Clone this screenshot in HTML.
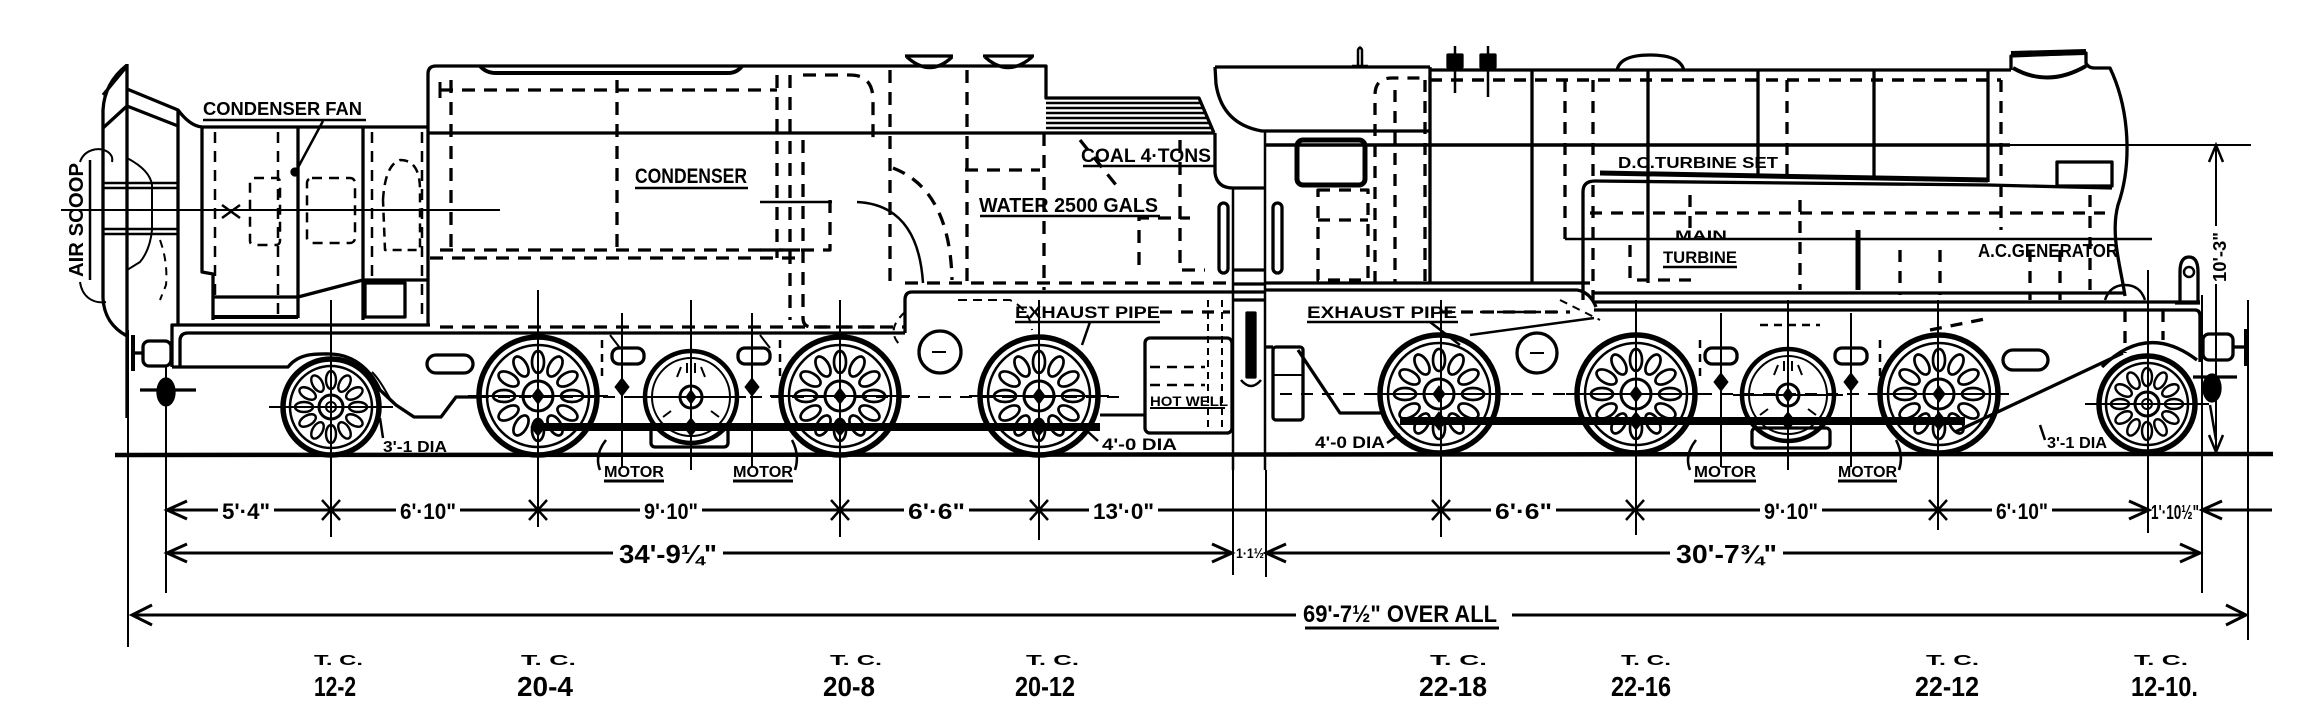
<!DOCTYPE html>
<html><head><meta charset="utf-8"><title>Turbine locomotive diagram</title>
<style>
html,body{margin:0;padding:0;background:#fff;width:2310px;height:726px;overflow:hidden}
svg{display:block}
</style></head><body>
<svg xmlns="http://www.w3.org/2000/svg" width="2310" height="726" viewBox="0 0 2310 726">
<defs>
<g id="bw" fill="none" stroke="#000">
<circle r="59" stroke-width="5.5"/>
<circle r="51" stroke-width="2.5"/>
<g stroke-width="2.7">
<ellipse cy="-34" rx="6" ry="11"/>
<ellipse cy="-34" rx="6" ry="11" transform="rotate(30)"/>
<ellipse cy="-34" rx="6" ry="11" transform="rotate(60)"/>
<ellipse cy="-34" rx="6" ry="11" transform="rotate(90)"/>
<ellipse cy="-34" rx="6" ry="11" transform="rotate(120)"/>
<ellipse cy="-34" rx="6" ry="11" transform="rotate(150)"/>
<ellipse cy="-34" rx="6" ry="11" transform="rotate(180)"/>
<ellipse cy="-34" rx="6" ry="11" transform="rotate(210)"/>
<ellipse cy="-34" rx="6" ry="11" transform="rotate(240)"/>
<ellipse cy="-34" rx="6" ry="11" transform="rotate(270)"/>
<ellipse cy="-34" rx="6" ry="11" transform="rotate(300)"/>
<ellipse cy="-34" rx="6" ry="11" transform="rotate(330)"/>
</g>
<circle r="15" stroke-width="3"/>
<path d="M0,-8 L6,0 L0,8 L-6,0Z" fill="#000" stroke-width="1"/>
<path d="M-70,0 L70,0" stroke-width="2"/>
</g>
<g id="sw" fill="none" stroke="#000">
<circle r="48" stroke-width="5.5"/>
<circle r="41" stroke-width="2.5"/>
<g stroke-width="2.4">
<ellipse cy="-27" rx="5" ry="9"/>
<ellipse cy="-27" rx="5" ry="9" transform="rotate(30)"/>
<ellipse cy="-27" rx="5" ry="9" transform="rotate(60)"/>
<ellipse cy="-27" rx="5" ry="9" transform="rotate(90)"/>
<ellipse cy="-27" rx="5" ry="9" transform="rotate(120)"/>
<ellipse cy="-27" rx="5" ry="9" transform="rotate(150)"/>
<ellipse cy="-27" rx="5" ry="9" transform="rotate(180)"/>
<ellipse cy="-27" rx="5" ry="9" transform="rotate(210)"/>
<ellipse cy="-27" rx="5" ry="9" transform="rotate(240)"/>
<ellipse cy="-27" rx="5" ry="9" transform="rotate(270)"/>
<ellipse cy="-27" rx="5" ry="9" transform="rotate(300)"/>
<ellipse cy="-27" rx="5" ry="9" transform="rotate(330)"/>
</g>
<circle r="12" stroke-width="3"/>
<circle r="5" stroke-width="2"/>
<path d="M-62,0 L62,0" stroke-width="2"/>
</g>
<g id="mw" fill="none" stroke="#000">
<circle r="46" stroke-width="4.5"/>
<circle r="39" stroke-width="2"/>
<circle r="11" stroke-width="3"/>
<path d="M0,-7 L5,0 L0,7 L-5,0Z" fill="#000" stroke-width="1"/>
<path d="M-14,-20 L-10,-30 M14,-20 L10,-30 M-20,14 L-28,20 M20,14 L28,20 M-4,-24 L-4,-34 M4,-24 L4,-34" stroke-width="2"/>
<path d="M-55,0 L55,0" stroke-width="2"/>
</g>
<path id="dia" d="M0,-9 L7,0 L0,9 L-7,0Z"/>
</defs>

<rect width="2310" height="726" fill="#fff"/>

<!-- ================= GROUND ================= -->
<path d="M115,455 L2273,454" stroke="#000" stroke-width="4.5" fill="none"/>

<g fill="none" stroke="#000" stroke-width="3.3" stroke-linejoin="round">

<!-- ================= TENDER / CONDENSER ================= -->
<path d="M127,64 L127,418"/>
<path d="M127,65 C113,76 104,90 103,110 L103,298 C104,318 114,329 127,336"/>
<path d="M103,95 L127,66"/>
<path d="M103,128 L127,106"/>
<path d="M127,89 L178,110 L178,325"/>
<path d="M127,106 L178,126"/>
<path d="M103,183 L178,183 M103,188 L178,188 M103,229 L178,229 M103,234 L178,234" stroke-width="2.5"/>
<path d="M127,158 Q150,170 152,185 L152,230 Q150,250 140,262 L127,270" stroke-width="2"/>
<path d="M160,240 Q168,262 166,285 L160,300" stroke-width="2" stroke-dasharray="8 6"/>
<path d="M178,110 Q190,126 202,127 L428,127"/>

<path d="M90,160 L90,280" stroke-width="2.5"/>
<path d="M80,162 C84,150 98,146 108,152 C112,155 113,158 112,162" stroke-width="2"/>
<path d="M80,282 C82,296 92,304 106,302" stroke-width="2"/>

<path d="M61,210 L500,210" stroke-width="2"/>

<path d="M202,127 L202,272 L213,274 L213,320"/>
<path d="M298,127 L298,318"/>
<path d="M363,127 L363,320"/>
<path d="M215,132 L215,300 M278,132 L278,318 M372,132 L372,280 M422,132 L422,322" stroke-dasharray="11 8" stroke-width="2.5"/>
<rect x="250" y="178" width="30" height="67" rx="4" stroke-dasharray="10 7" stroke-width="2.5"/>
<rect x="307" y="178" width="48" height="65" rx="5" stroke-dasharray="10 7" stroke-width="2.5"/>
<path d="M383,200 Q385,165 400,160 Q420,160 420,190 L420,250 L385,250 Z" stroke-dasharray="9 6" stroke-width="2.5"/>
<path d="M323,121 L295,173" stroke-width="2.5"/>
<circle cx="295" cy="172" r="3" fill="#000"/>
<path d="M213,297 L298,297 L363,280 L428,280"/>
<path d="M213,317 L298,317" stroke-width="4"/>
<rect x="365" y="283" width="40" height="34"/>
<path d="M222,205 L240,218 M240,205 L222,218" stroke-width="2.5"/>

<path d="M428,325 L428,74 Q428,66 436,66 L1046,66 L1046,98 L1199,98 L1214,133"/>
<path d="M428,133 L1214,133"/>
<path d="M480,66 Q486,73 496,73 L728,73 Q737,73 742,66" stroke-width="4"/>
<path d="M905,56 L953,56 M907,57 Q930,78 952,57 M983,56 L1034,56 M985,57 Q1008,78 1032,57"/>
<path d="M1046,103 L1201,103 M1046,108 L1203,108 M1046,113 L1205,113 M1046,118 L1207,118 M1046,123 L1209,123 M1046,128 L1211,128" stroke-width="2.5"/>

<g stroke-dasharray="13 9">
<path d="M440,90 L777,90"/>
<path d="M440,250 L800,250"/>
<path d="M430,258 L800,258"/>
<path d="M451,80 L451,250"/>
<path d="M617,80 L617,250"/>
<path d="M777,75 L777,258"/>
<path d="M790,75 L790,320"/>
<path d="M803,140 L803,318 Q803,327 812,327 L880,327"/>
<path d="M890,70 L890,290"/>
<path d="M967,70 L967,282"/>
<path d="M1044,133 L1044,290"/>
<path d="M905,283 L1230,283"/>
<path d="M440,327 L905,327"/>
<path d="M1139,265 L1139,218 L1190,218"/>
<path d="M1180,140 L1180,270 L1205,270"/>
<path d="M803,75 L850,75 Q873,75 873,100 L873,140"/>
<path d="M893,168 Q950,190 952,280"/>
<path d="M830,200 L830,250 L760,250"/>
<path d="M965,170 L1040,170"/>
<path d="M1080,140 L1120,190"/>
</g>
<path d="M857,202 Q918,205 923,283" stroke-width="2.5"/>
<path d="M760,202 L832,202" stroke-width="2.5"/>
<path d="M440,82 L440,98 M440,90 L446,90" stroke-width="3"/>

<path d="M1233,292 L912,292 Q905,292 905,300 L905,333"/>
<path d="M172,367 L172,325 L430,325"/>
<path d="M180,367 L180,341 Q180,333 188,333 L905,333"/>
<path d="M172,367 L288,367 C300,352 318,354 331,354 C356,355 372,372 380,390 L396,405 L414,417 L441,417 L456,397 L478,397"/>
<path d="M372,372 C380,380 386,392 392,402" stroke-width="2"/>
<rect x="427" y="355" width="46" height="18" rx="9"/>
<circle cx="940" cy="352" r="21"/>
<path d="M932,352 L946,352" stroke-width="2"/>
<path d="M905,312 Q885,330 900,345" stroke-width="2" stroke-dasharray="8 6"/>
<path d="M1100,415 L1145,415" stroke-width="3"/>
<path d="M958,300 L1010,300 Q1030,310 1032,330" stroke-width="2" stroke-dasharray="9 6"/>

<rect x="143" y="341" width="28" height="25" rx="6"/>
<path d="M133,335 L133,371" stroke-width="4"/>
<path d="M133,353 L143,353"/>
<ellipse cx="166" cy="392" rx="8" ry="13" fill="#000"/>
<path d="M140,390 L196,390"/>

<rect x="612" y="348" width="32" height="16" rx="7"/>
<rect x="738" y="348" width="32" height="16" rx="7"/>
<rect x="651" y="427" width="77" height="20" rx="4"/>
<path d="M602,340 L602,380 M780,340 L780,380" stroke-dasharray="8 6" stroke-width="2.5"/>
<path d="M610,335 L620,348 M760,335 L770,348" stroke-width="2"/>

<rect x="1145" y="338" width="87" height="95" rx="5"/>
<path d="M1150,367 L1205,367 M1150,385 L1205,385" stroke-dasharray="10 7" stroke-width="2.5"/>
<path d="M1208,300 L1208,430 M1222,300 L1222,430" stroke-dasharray="7 5" stroke-width="2"/>
<path d="M1150,408 L1225,408" stroke-width="2"/>

<!-- ================= ENGINE ================= -->
<path d="M1215,67 L1430,67"/>
<path d="M1215,67 L1216,84 Q1222,124 1262,131 L1430,131"/>
<path d="M1215,133 L1215,173 Q1217,188 1233,188 L1265,188"/>
<path d="M1233,188 L1233,470" stroke-width="2.5"/>
<path d="M1265,131 L1265,470" stroke-width="2.5"/>
<path d="M1233,270 L1265,270 M1233,284 L1265,284 M1233,292 L1265,292 M1233,300 L1265,300"/>
<rect x="1247" y="313" width="8" height="64" fill="#000"/>
<path d="M1241,380 Q1251,392 1261,380" stroke-width="2.5"/>
<rect x="1297" y="140" width="68" height="45" rx="6" stroke-width="5"/>
<rect x="1219" y="203" width="9" height="70" rx="4.5"/>
<rect x="1273" y="203" width="9" height="70" rx="4.5"/>
<path d="M1358,66 L1358,50 Q1360,45 1362,50 L1362,66 M1352,66 L1368,66" stroke-width="2.5"/>
<path d="M1455,46 L1455,93 M1488,46 L1488,97" stroke-width="2.5"/>
<rect x="1448" y="55" width="14" height="12" fill="#000"/>
<rect x="1481" y="55" width="14" height="12" fill="#000"/>

<path d="M1430,67 L1430,283"/>
<path d="M1430,70 L2011,70"/>
<path d="M1532,70 L1532,283 M1648,70 L1648,283 M1758,70 L1758,178 M1874,70 L1874,180 M1988,70 L1988,182"/>
<path d="M1266,145 L2010,145" stroke-width="3.5"/>
<path d="M2010,145 L2251,145" stroke-width="2"/>
<path d="M1265,283 L1590,283"/>
<path d="M1265,290 L1577,290 Q1590,292 1596,307"/>
<path d="M1593,293 L2125,293"/>
<path d="M1594,302 L2200,302"/>
<path d="M1594,310 L2195,310 Q2200,310 2200,316 L2200,362"/>
<path d="M1617,71 Q1619,55 1650,55 Q1681,55 1684,71"/>

<path d="M1600,173 L1988,180" stroke-width="5"/>
<path d="M1583,300 L1583,192 Q1583,181 1595,181 L1988,185 L2112,188"/>
<rect x="2057" y="162" width="55" height="24"/>
<path d="M1565,239 L2152,239" stroke-width="2.5"/>
<path d="M1858,230 L1858,290" stroke-width="5"/>

<path d="M2011,70 L2011,56 L2086,53 L2086,63 Q2088,68 2095,68 L2110,68 C2130,110 2132,165 2118,205 C2110,235 2121,268 2125,296"/>
<path d="M2011,54 L2086,52" stroke-width="6"/>
<path d="M2013,68 Q2048,88 2086,66" stroke-width="4"/>

<g stroke-dasharray="12 9">
<path d="M1430,80 L2001,80" stroke-width="3.5"/>
<path d="M1375,283 L1375,95 Q1375,78 1392,78 L1430,78"/>
<path d="M1395,90 L1395,283"/>
<path d="M1425,80 L1425,283"/>
<rect x="1318" y="190" width="50" height="90"/>
<path d="M1318,220 L1368,220"/>
<path d="M1565,80 L1565,239"/>
<path d="M1593,80 L1593,300"/>
<path d="M1787,80 L1787,175"/>
<path d="M2001,80 L2001,230"/>
<path d="M1590,213 L2105,213"/>
<path d="M1630,245 L1630,280 L1700,280"/>
<path d="M1690,195 L1690,230"/>
<path d="M1800,200 L1800,290"/>
<path d="M1900,250 L1900,295 M1940,250 L1940,295"/>
<path d="M2030,250 L2030,300 M2060,250 L2060,300"/>
<path d="M2090,195 L2090,290"/>
<path d="M1280,394 L2010,394" stroke-width="2"/>
<path d="M456,397 L1120,397" stroke-width="2"/>
<path d="M1160,312 L1230,312"/>
<path d="M1440,312 L1570,312"/>
<path d="M2125,310 L2125,353 M2163,310 L2163,340"/>
<path d="M1930,330 L1990,318"/>
</g>

<rect x="1273" y="347" width="30" height="73" rx="3"/>
<path d="M1273,375 L1303,375" stroke-width="2"/>
<path d="M1298,350 L1340,413 L1383,413"/>
<path d="M1265,347 L1273,347"/>
<circle cx="1537" cy="353" r="20"/>
<path d="M1530,353 L1544,353" stroke-width="2"/>
<path d="M1470,335 L1594,318" stroke-width="2.5"/>
<path d="M1560,300 L1600,320" stroke-width="2" stroke-dasharray="8 6"/>
<rect x="1705" y="348" width="32" height="16" rx="7"/>
<rect x="1835" y="348" width="32" height="16" rx="7"/>
<rect x="1752" y="428" width="78" height="20" rx="4"/>
<path d="M1700,340 L1700,380 M1880,340 L1880,380" stroke-dasharray="8 6" stroke-width="2.5"/>
<path d="M1760,325 L1820,325" stroke-dasharray="8 6" stroke-width="2.5"/>

<path d="M2102,367 Q2147,322 2197,360"/>
<path d="M1955,432 L2123,353"/>
<rect x="2003" y="350" width="45" height="20" rx="10"/>
<path d="M2180,303 L2180,272 Q2180,257 2189,257 Q2198,257 2198,272 L2198,303"/>
<circle cx="2189" cy="272" r="5" stroke-width="2.5"/>
<path d="M2175,303 L2200,303"/>
<path d="M2105,300 Q2110,285 2125,285 Q2140,285 2145,300" stroke-width="2.5"/>
<rect x="2203" y="334" width="30" height="26" rx="6"/>
<path d="M2233,347 L2246,347"/>
<path d="M2246,329 L2246,366" stroke-width="4"/>
<ellipse cx="2212" cy="388" rx="8" ry="13" fill="#000"/>
<path d="M2193,377 L2237,377"/>
<path d="M2210,405 L2216,440" stroke-width="2.5"/>
</g>

<!-- ================= WHEELS ================= -->
<use href="#sw" x="331" y="407"/>
<use href="#bw" x="538" y="396"/>
<use href="#mw" x="691" y="397"/>
<use href="#bw" x="840" y="396"/>
<use href="#bw" x="1039" y="396"/>
<use href="#bw" x="1439" y="394"/>
<use href="#bw" x="1636" y="394"/>
<use href="#mw" x="1788" y="395"/>
<use href="#bw" x="1939" y="394"/>
<use href="#sw" x="2147" y="404"/>

<g stroke="#000" fill="#000">
<path d="M538,427 L1100,427" stroke-width="8" fill="none"/>
<path d="M1400,421 L1965,421" stroke-width="8" fill="none"/>
<use href="#dia" x="538" y="427"/>
<use href="#dia" x="691" y="427"/>
<use href="#dia" x="840" y="427"/>
<use href="#dia" x="1039" y="427"/>
<use href="#dia" x="622" y="387"/>
<use href="#dia" x="752" y="387"/>
<use href="#dia" x="1439" y="421"/>
<use href="#dia" x="1636" y="421"/>
<use href="#dia" x="1788" y="421"/>
<use href="#dia" x="1939" y="421"/>
<use href="#dia" x="1721" y="382"/>
<use href="#dia" x="1851" y="382"/>
</g>

<!-- ================= EXTENSION / CENTRE LINES ================= -->
<g stroke="#000" stroke-width="2" fill="none">
<path d="M128,330 L128,647"/>
<path d="M166,367 L166,593"/>
<path d="M331,300 L331,537"/>
<path d="M538,290 L538,527"/>
<path d="M622,313 L622,467"/>
<path d="M691,300 L691,470"/>
<path d="M752,313 L752,467"/>
<path d="M840,300 L840,537"/>
<path d="M1039,300 L1039,540"/>
<path d="M1233,470 L1233,575"/>
<path d="M1266,470 L1266,577"/>
<path d="M1441,300 L1441,537"/>
<path d="M1636,300 L1636,535"/>
<path d="M1721,313 L1721,467"/>
<path d="M1788,300 L1788,470"/>
<path d="M1851,313 L1851,467"/>
<path d="M1938,300 L1938,530"/>
<path d="M2148,270 L2148,533"/>
<path d="M2202,295 L2202,593"/>
<path d="M2248,300 L2248,640"/>
<path d="M2216,145 L2216,226 M2216,284 L2216,452"/>
<path d="M2209,162 L2216,145 L2223,162 M2209,435 L2216,452 L2223,435" stroke-width="2.5"/>
</g>

<!-- ================= DIMENSION LINES ================= -->
<g stroke="#000" stroke-width="3" fill="none">
<path d="M167,510 L218,510 M274,510 L396,510 M460,510 L640,510 M702,510 L904,510 M969,510 L1089,510 M1158,510 L1491,510 M1556,510 L1760,510 M1822,510 L1992,510 M2052,510 L2149,510 M2202,510 L2272,510"/>
<path d="M187,501 L167,510 L187,519"/>
<path d="M2129,501 L2149,510 L2129,519"/>
<path d="M2222,501 L2202,510 L2222,519"/>
<path d="M322,500 L340,520 M340,500 L322,520 M529,500 L547,520 M547,500 L529,520 M831,500 L849,520 M849,500 L831,520 M1030,500 L1048,520 M1048,500 L1030,520 M1432,500 L1450,520 M1450,500 L1432,520 M1626,500 L1644,520 M1644,500 L1626,520 M1929,500 L1947,520 M1947,500 L1929,520" stroke-width="2.5"/>

<path d="M167,553 L613,553 M723,553 L1232,553 M1266,553 L1670,553 M1783,553 L2200,553"/>
<path d="M187,544 L167,553 L187,562"/>
<path d="M1212,544 L1232,553 L1212,562"/>
<path d="M1286,544 L1266,553 L1286,562"/>
<path d="M2180,544 L2200,553 L2180,562"/>

<path d="M132,615 L1296,615 M1512,615 L2246,615"/>
<path d="M152,605 L132,615 L152,625"/>
<path d="M2226,605 L2246,615 L2226,625"/>
</g>

<!-- ================= TEXT ================= -->
<g font-family="'Liberation Sans', sans-serif" font-weight="bold" fill="#000">
<text x="222" y="519" font-size="22" textLength="48" lengthAdjust="spacingAndGlyphs">5'·4"</text>
<text x="400" y="519" font-size="22" textLength="56" lengthAdjust="spacingAndGlyphs">6'·10"</text>
<text x="644" y="519" font-size="22" textLength="54" lengthAdjust="spacingAndGlyphs">9'·10"</text>
<text x="908" y="519" font-size="22" textLength="57" lengthAdjust="spacingAndGlyphs">6'·6"</text>
<text x="1093" y="519" font-size="22" textLength="61" lengthAdjust="spacingAndGlyphs">13'·0"</text>
<text x="1495" y="519" font-size="22" textLength="57" lengthAdjust="spacingAndGlyphs">6'·6"</text>
<text x="1764" y="519" font-size="22" textLength="54" lengthAdjust="spacingAndGlyphs">9'·10"</text>
<text x="1996" y="519" font-size="22" textLength="52" lengthAdjust="spacingAndGlyphs">6'·10"</text>
<text x="2151" y="519" font-size="20" textLength="48" lengthAdjust="spacingAndGlyphs">1'·10½"</text>
<text x="619" y="563" font-size="26" textLength="98" lengthAdjust="spacingAndGlyphs">34'-9¼"</text>
<text x="1236" y="558" font-size="14" textLength="28" lengthAdjust="spacingAndGlyphs">1·1½</text>
<text x="1676" y="563" font-size="26" textLength="101" lengthAdjust="spacingAndGlyphs">30'-7¾"</text>
<text x="1303" y="622" font-size="24" textLength="194" lengthAdjust="spacingAndGlyphs">69'-7½" OVER ALL</text>

<g font-size="15">
<text x="314" y="665" textLength="49" lengthAdjust="spacingAndGlyphs">T. C.</text>
<text x="521" y="665" textLength="55" lengthAdjust="spacingAndGlyphs">T. C.</text>
<text x="830" y="665" textLength="52" lengthAdjust="spacingAndGlyphs">T. C.</text>
<text x="1026" y="665" textLength="53" lengthAdjust="spacingAndGlyphs">T. C.</text>
<text x="1430" y="665" textLength="57" lengthAdjust="spacingAndGlyphs">T. C.</text>
<text x="1621" y="665" textLength="50" lengthAdjust="spacingAndGlyphs">T. C.</text>
<text x="1926" y="665" textLength="53" lengthAdjust="spacingAndGlyphs">T. C.</text>
<text x="2134" y="665" textLength="54" lengthAdjust="spacingAndGlyphs">T. C.</text>
</g>
<g font-size="28">
<text x="314" y="696" textLength="42" lengthAdjust="spacingAndGlyphs">12-2</text>
<text x="517" y="696" textLength="56" lengthAdjust="spacingAndGlyphs">20-4</text>
<text x="823" y="696" textLength="52" lengthAdjust="spacingAndGlyphs">20-8</text>
<text x="1015" y="696" textLength="60" lengthAdjust="spacingAndGlyphs">20-12</text>
<text x="1419" y="696" textLength="68" lengthAdjust="spacingAndGlyphs">22-18</text>
<text x="1611" y="696" textLength="60" lengthAdjust="spacingAndGlyphs">22-16</text>
<text x="1915" y="696" textLength="64" lengthAdjust="spacingAndGlyphs">22-12</text>
<text x="2131" y="696" textLength="67" lengthAdjust="spacingAndGlyphs">12-10.</text>
</g>

<text x="203" y="115" font-size="18" textLength="159" lengthAdjust="spacingAndGlyphs">CONDENSER FAN</text>
<text x="635" y="183" font-size="21" textLength="112" lengthAdjust="spacingAndGlyphs">CONDENSER</text>
<text x="1081" y="162" font-size="19" textLength="130" lengthAdjust="spacingAndGlyphs">COAL 4·TONS</text>
<text x="979" y="212" font-size="20" textLength="179" lengthAdjust="spacingAndGlyphs">WATER 2500 GALS</text>
<text x="1015" y="318" font-size="17" textLength="145" lengthAdjust="spacingAndGlyphs">EXHAUST PIPE</text>
<text x="1307" y="318" font-size="17" textLength="150" lengthAdjust="spacingAndGlyphs">EXHAUST PIPE</text>
<text x="1618" y="168" font-size="16" textLength="160" lengthAdjust="spacingAndGlyphs">D.C.TURBINE SET</text>
<text x="1675" y="240" font-size="14" textLength="52" lengthAdjust="spacingAndGlyphs">MAIN</text>
<text x="1663" y="263" font-size="17" textLength="74" lengthAdjust="spacingAndGlyphs">TURBINE</text>
<text x="1978" y="257" font-size="18" textLength="140" lengthAdjust="spacingAndGlyphs">A.C.GENERATOR</text>
<text x="1150" y="406" font-size="14" textLength="78" lengthAdjust="spacingAndGlyphs">HOT WELL</text>
<text x="1102" y="450" font-size="17" textLength="75" lengthAdjust="spacingAndGlyphs">4'-0 DIA</text>
<text x="1315" y="448" font-size="17" textLength="70" lengthAdjust="spacingAndGlyphs">4'-0 DIA</text>
<text x="383" y="452" font-size="16" textLength="64" lengthAdjust="spacingAndGlyphs">3'-1 DIA</text>
<text x="2047" y="448" font-size="16" textLength="60" lengthAdjust="spacingAndGlyphs">3'-1 DIA</text>
<text x="604" y="477" font-size="16" textLength="60" lengthAdjust="spacingAndGlyphs">MOTOR</text>
<text x="733" y="477" font-size="16" textLength="60" lengthAdjust="spacingAndGlyphs">MOTOR</text>
<text x="1694" y="477" font-size="16" textLength="62" lengthAdjust="spacingAndGlyphs">MOTOR</text>
<text x="1838" y="477" font-size="16" textLength="59" lengthAdjust="spacingAndGlyphs">MOTOR</text>
<text transform="translate(83,277) rotate(-90)" font-size="20" textLength="114" lengthAdjust="spacingAndGlyphs">AIR SCOOP</text>
<text transform="translate(2226,282) rotate(-90)" font-size="18" textLength="50" lengthAdjust="spacingAndGlyphs">10'-3"</text>
</g>

<g stroke="#000" stroke-width="2.5" fill="none">
<path d="M203,120 L366,120"/>
<path d="M635,188 L748,188"/>
<path d="M1083,166 L1214,166"/>
<path d="M980,216 L1160,216"/>
<path d="M1015,322 L1160,322"/>
<path d="M1307,322 L1458,322"/>
<path d="M1663,267 L1737,267"/>
<path d="M604,481 L664,481 M733,481 L793,481 M1694,481 L1756,481 M1838,481 L1897,481" stroke-width="3"/>
<path d="M1305,628 L1499,628" stroke-width="3"/>
<path d="M600,470 Q594,455 606,440 M795,470 Q800,455 792,440 M1690,470 Q1684,455 1696,440 M1899,470 Q1904,455 1896,440"/>
<path d="M1098,441 L1086,430 M1387,443 L1400,434"/>
<path d="M383,438 L380,418 M2045,440 L2040,425"/>
<path d="M1090,322 L1082,345 M1430,322 L1460,345"/>
<path d="M1480,312 L1560,312" stroke-dasharray="10 7"/>
</g>
</svg>
</body></html>
